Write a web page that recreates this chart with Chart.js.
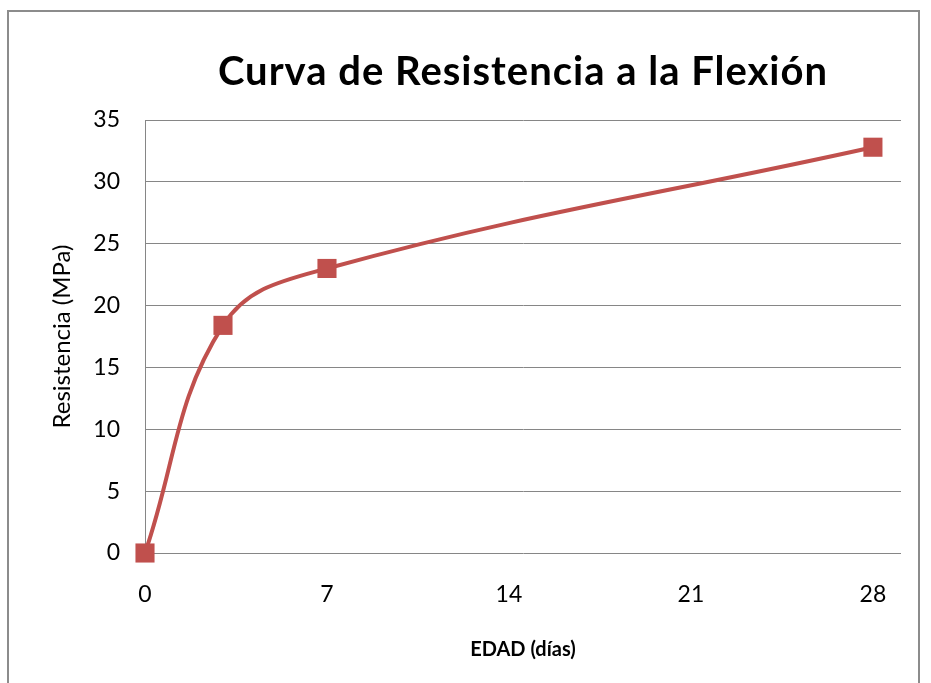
<!DOCTYPE html>
<html lang="es">
<head>
<meta charset="UTF-8">
<title>Curva de Resistencia a la Flexión</title>
<script src="https://cdn.jsdelivr.net/npm/chart.js"></script>
<style>
  html, body { margin: 0; padding: 0; background: #ffffff; overflow: hidden; }
  .frame {
    position: absolute; left: 7px; top: 10px; width: 913px; height: 700px;
    border: 2px solid #8c8c8c; box-sizing: border-box;
  }
  .chart-box { position: absolute; left: 0; top: 0; width: 931px; height: 683px; }
</style>
</head>
<body>
<div class="frame"></div>
<div class="chart-box"><canvas id="chart"></canvas></div>
<script>
// datos
const edadDias = [0, 3, 7, 28];
const resistencia = [0, 18.4, 23.0, 32.8];
const xTicks = [0, 7, 14, 21, 28];
const titulo = 'Curva de Resistencia a la Flexión';

const FONT = 'Lato, "Open Sans", sans-serif';
const rojo = '#C0504D';
const gris = '#868686';

// título centrado sobre el área del gráfico (como en Excel)
const tituloPlugin = {
  id: 'tituloArea',
  afterDraw(chart) {
    const a = chart.chartArea;
    const ctx = chart.ctx;
    ctx.save();
    ctx.font = 'bold 40px ' + FONT;
    ctx.letterSpacing = '1px';
    ctx.fillStyle = '#000';
    ctx.textAlign = 'center';
    ctx.textBaseline = 'middle';
    ctx.fillText(titulo, (a.left + a.right) / 2, 72);
    ctx.restore();
  }
};

new Chart(document.getElementById('chart'), {
  type: 'scatter',
  data: {
    datasets: [{
      data: edadDias.map((x, i) => ({ x: x, y: resistencia[i] })),
      showLine: true,
      clip: false,
      borderColor: rojo,
      borderWidth: 4,
      tension: 0.4,
      pointStyle: 'rect',
      pointRadius: 13.5,
      pointHoverRadius: 13.5,
      pointBackgroundColor: rojo,
      pointBorderColor: rojo,
      pointBorderWidth: 0
    }]
  },
  options: {
    responsive: true,
    maintainAspectRatio: false,
    animation: false,
    layout: { padding: { top: 120, right: 30, left: 0, bottom: 0 } },
    plugins: { legend: { display: false }, tooltip: { enabled: false } },
    scales: {
      x: {
        type: 'linear',
        min: 0, max: 29.08,
        afterBuildTicks(scale) { scale.ticks = xTicks.map(v => ({ value: v })); },
        afterFit(scale) { scale.height = 130; },
        grid: { display: false, drawTicks: false },
        border: { display: false },
        ticks: { color: '#000', font: { family: FONT, size: 23 }, padding: 28 },
        title: {
          display: true, text: 'EDAD (días)', color: '#000',
          font: { family: FONT, size: 20, weight: 'bold' }, padding: { top: 0, bottom: 21 }
        }
      },
      y: {
        min: 0, max: 35,
        afterFit(scale) { scale.width = 145; },
        grid: { color: gris, lineWidth: 1, drawTicks: false },
        border: { display: true, color: gris, width: 1 },
        ticks: { stepSize: 5, color: '#000', font: { family: FONT, size: 23 }, padding: 25 },
        title: {
          display: true, text: 'Resistencia (MPa)', color: '#000',
          font: { family: FONT, size: 24 }, padding: { top: 48, bottom: 0 }
        }
      }
    }
  },
  plugins: [tituloPlugin]
});
</script>
</body>
</html>
